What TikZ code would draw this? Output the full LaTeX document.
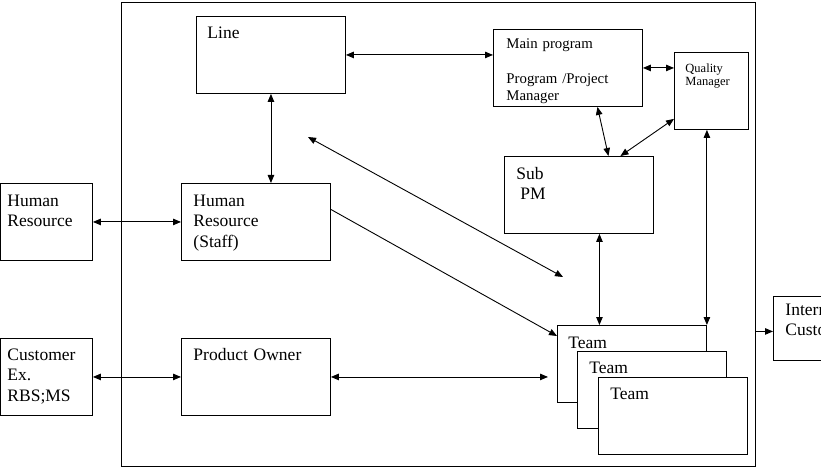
\documentclass[tikz,border=0pt]{standalone}
\usepackage{fontspec}
\setmainfont{Liberation Serif}
\usetikzlibrary{arrows.meta, positioning}

\tikzset{
  box/.style={draw, line width=0.9pt, anchor=north west, align=left,
    inner ysep=0pt, inner xsep=11pt, text width=127pt,
    text height=22pt, text depth=55pt,
    font=\fontsize{17.5}{20.5}\selectfont},
  link/.style={line width=0.9pt, <->},
  feed/.style={line width=0.9pt, ->},
}

\begin{document}
\begin{tikzpicture}[x=1pt, y=-1pt, >={Triangle[length=8pt, width=6.5pt]}]
        \useasboundingbox (0,0) rectangle (821,470);
        \clip (0,0) rectangle (821,470);
        % organisation frame
        \node[draw, line width=1pt, inner sep=0pt, anchor=north west,
          minimum width=634pt, minimum height=464pt] (frame) at (121,2) {};
        % boxes
        \node[box] (line) at (196,16) {Line};
        \node[box, inner xsep=13pt, text width=123pt, text height=19pt, text depth=58pt,
          font=\fontsize{14.8}{17.5}\selectfont] (main) at (493,29)
          {Main program\\[17.5pt]Program /Project\\Manager};
        \node[box, text width=52pt, text height=20pt, text depth=57pt,
          font=\fontsize{12.5}{13.5}\selectfont] (quality) at (674,52) {Quality\\Manager};
        \node[box, inner xsep=12pt, text width=125pt, text height=23pt, text depth=54pt]
          (subpm) at (504,156) {Sub\\\hspace*{4pt}PM};
        \node[box, inner xsep=7pt, text width=78pt, text height=23pt, text depth=54pt]
          (hr) at (0,183) {Human\\Resource};
        \node[box, inner xsep=12pt, text width=125pt, text height=23pt, text depth=54pt]
          (staff) at (181,183) {Human\\Resource\\(Staff)};
        \node[box, inner xsep=7pt, text width=78pt] (customer) at (0,338) {Customer\\Ex.\\RBS;MS};
        \node[box, inner xsep=12pt, text width=125pt] (owner) at (181,338) {Product Owner};
        \node[box, text height=23pt, text depth=54pt] (team1) at (557,325) {Team};
        \node[box, fill=white, inner xsep=12pt, text width=125pt] (team2) at (577,351) {Team};
        \node[box, fill=white, inner xsep=12pt, text width=125pt] (team3) at (598,377) {Team};
        \node[box, inner xsep=12pt, text height=19pt, text depth=45pt]
          (internal) at (773,296) {Internal\\Customer};
        % free arrow
        \coordinate (hint-a) at (308,137);
        \coordinate (hint-b) at (563,277);
        % connectors
        \draw[link] (line.east) -- (line.east -| main.west);
        \draw[link] (main.east) -- (main.east -| quality.west);
        \draw[link] (line.south) -- (line.south |- staff.north);
        \draw[link] (hr.east) -- (staff.west);
        \draw[link] (customer.east) -- (owner.west);
        \draw[link, shorten >=9pt] (owner.east) -- (owner.east -| team1.west);
        \draw[feed] ([yshift=12.5pt]staff.east) -- ([yshift=-11pt]team1.north west);
        \draw[link] (hint-a) -- (hint-b);
        \draw[link] ([xshift=29.5pt]main.south) -- ([xshift=29.5pt]subpm.north);
        \draw[link] ([xshift=41.5pt]subpm.north) -- ([yshift=11pt]quality.south west);
        \draw[link] ([xshift=20.5pt]subpm.south) -- ([xshift=20.5pt]subpm.south |- team1.north);
        \draw[link] (quality.south -| team1.north east) -- (team1.north east);
        \draw[feed] ([yshift=-3pt]frame.east |- internal.west) -- ([yshift=-3pt]internal.west);
      \end{tikzpicture}
\end{document}
